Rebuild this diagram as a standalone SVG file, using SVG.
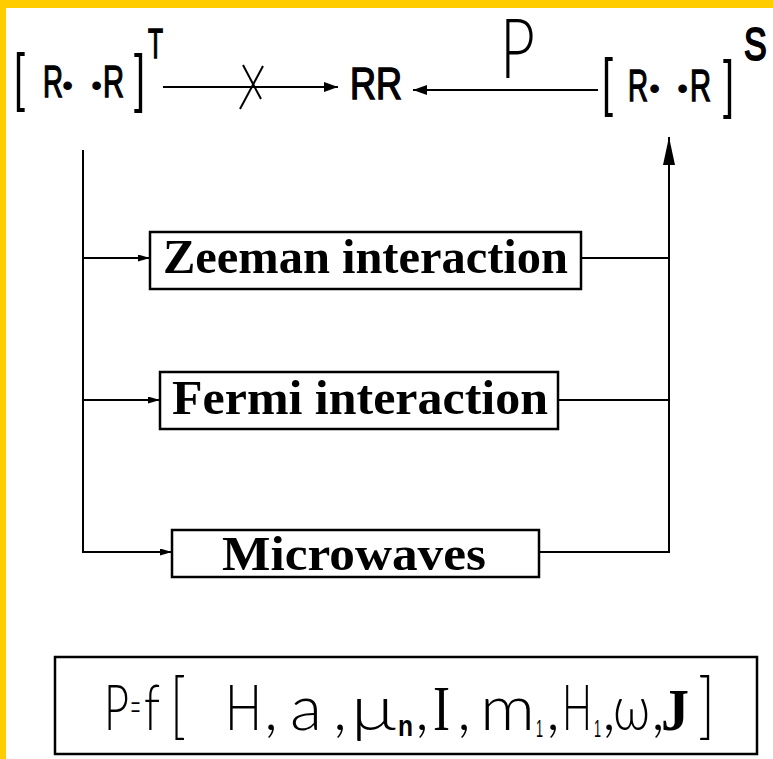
<svg xmlns="http://www.w3.org/2000/svg" width="773" height="759" viewBox="0 0 773 759">
<style>
.ln{stroke:#000;stroke-width:2;fill:none}
.bx{stroke:#000;stroke-width:2.5;fill:#fff}
.sans{font-family:"Liberation Sans",Arial,sans-serif;font-weight:normal;fill:#000;stroke:#000;stroke-width:1.5}
.brk{font-family:"Liberation Sans",Arial,sans-serif;font-weight:normal;fill:#000}
.thin{font-family:Lato,"DejaVu Sans",sans-serif;font-weight:300;fill:#000}
.sub{font-family:"Liberation Sans",Arial,sans-serif;fill:#000}
.serifT{font-family:"Liberation Serif","Times New Roman",serif;fill:#000}
.lbl{font-family:"Liberation Serif","Times New Roman",serif;font-weight:bold;font-size:48px;fill:#000}
</style>
<defs>
<marker id="big" markerUnits="userSpaceOnUse" viewBox="0 0 14 10" markerWidth="14" markerHeight="10" refX="14" refY="5" orient="auto"><path d="M0,0 L14,5 L0,10 z" fill="#000"/></marker>
<marker id="small" markerUnits="userSpaceOnUse" viewBox="0 0 12 7" markerWidth="12" markerHeight="7" refX="12" refY="3.5" orient="auto"><path d="M0,0 L12,3.5 L0,7 z" fill="#000"/></marker>
<marker id="tall" markerUnits="userSpaceOnUse" viewBox="0 0 28 12" markerWidth="28" markerHeight="12" refX="28" refY="6" orient="auto"><path d="M0,0 L28,6 L0,12 z" fill="#000"/></marker>
</defs>
<rect x="0" y="0" width="773" height="759" fill="#fff"/>
<rect x="0" y="0" width="773" height="8" fill="#FFCC00"/>
<rect x="0" y="0" width="6" height="759" fill="#FFCC00"/>

<g id="connectors">
<line class="ln" x1="163" y1="87" x2="338" y2="87" marker-end="url(#big)"/>
<line class="ln" x1="243" y1="65" x2="261" y2="99"/>
<line class="ln" x1="263" y1="66" x2="240" y2="109"/>
<line class="ln" x1="598" y1="90" x2="413" y2="90" marker-end="url(#big)"/>
<polyline class="ln" points="83,150 83,552 172,552" marker-end="url(#small)"/>
<line class="ln" x1="83" y1="258" x2="150" y2="258" marker-end="url(#small)"/>
<line class="ln" x1="83" y1="400" x2="160" y2="400" marker-end="url(#small)"/>
<line class="ln" x1="581" y1="258" x2="669" y2="258"/>
<line class="ln" x1="558" y1="400" x2="669" y2="400"/>
<polyline class="ln" points="539,552 669,552 669,137" marker-end="url(#tall)"/>
</g>

<g id="triplet">
<text class="brk" x="14" y="99" font-size="64" textLength="11" lengthAdjust="spacingAndGlyphs">[</text>
<text class="sans" x="43" y="97" font-size="45" textLength="20" lengthAdjust="spacingAndGlyphs">R</text>
<text class="brk" x="62" y="96" font-size="32">•</text>
<text class="brk" x="91" y="96" font-size="32">•</text>
<text class="sans" x="103" y="97" font-size="45" textLength="21" lengthAdjust="spacingAndGlyphs">R</text>
<text class="brk" x="134" y="100" font-size="64" textLength="11" lengthAdjust="spacingAndGlyphs">]</text>
<text class="sans" x="148" y="58" font-size="42" textLength="15" lengthAdjust="spacingAndGlyphs" stroke-width="2">T</text>
</g>

<g id="product">
<text class="sans" x="350" y="99" font-size="44" textLength="52" lengthAdjust="spacingAndGlyphs">RR</text>
</g>

<g id="rateP">
<text class="thin" x="500" y="78" font-size="82" textLength="35" lengthAdjust="spacingAndGlyphs">P</text>
</g>

<g id="singlet">
<text class="brk" x="602" y="104" font-size="64" textLength="11" lengthAdjust="spacingAndGlyphs">[</text>
<text class="sans" x="628" y="101" font-size="45" textLength="20" lengthAdjust="spacingAndGlyphs">R</text>
<text class="brk" x="649" y="99" font-size="32">•</text>
<text class="brk" x="677" y="99" font-size="32">•</text>
<text class="sans" x="690" y="101" font-size="45" textLength="21" lengthAdjust="spacingAndGlyphs">R</text>
<text class="brk" x="723" y="106" font-size="64" textLength="11" lengthAdjust="spacingAndGlyphs">]</text>
<text class="sans" transform="translate(744,60) scale(1,1.35)" x="0" y="0" font-size="34" stroke-width="1.2">S</text>
</g>

<g id="zeeman">
<rect class="bx" x="150" y="232" width="431" height="57"/>
<text class="lbl" x="163" y="273" textLength="405" lengthAdjust="spacingAndGlyphs">Zeeman interaction</text>
</g>

<g id="fermi">
<rect class="bx" x="160" y="372" width="398" height="57"/>
<text class="lbl" x="172" y="414" textLength="376" lengthAdjust="spacingAndGlyphs">Fermi interaction</text>
</g>

<g id="microwaves">
<rect class="bx" x="172" y="530" width="367" height="47"/>
<text class="lbl" x="222" y="570" textLength="264" lengthAdjust="spacingAndGlyphs">Microwaves</text>
</g>

<g id="formula">
<rect class="bx" x="55" y="657" width="702" height="97"/>
<text class="thin" x="104" y="730" font-size="64" textLength="25" lengthAdjust="spacingAndGlyphs">P</text>
<text class="thin" x="130" y="724" font-size="50" textLength="11" lengthAdjust="spacingAndGlyphs">=</text>
<text class="thin" x="144" y="730" font-size="64" textLength="16" lengthAdjust="spacingAndGlyphs">f</text>
<text class="thin" x="170" y="730" font-size="72" textLength="16" lengthAdjust="spacingAndGlyphs">[</text>
<text class="thin" x="225" y="730" font-size="64" textLength="37" lengthAdjust="spacingAndGlyphs">H</text>
<text class="thin" x="264" y="730" font-size="64">,</text>
<text class="thin" x="290" y="730" font-size="64" textLength="32" lengthAdjust="spacingAndGlyphs">a</text>
<text class="thin" x="333" y="730" font-size="64">,</text>
<text class="thin" x="351" y="730" font-size="64" textLength="45" lengthAdjust="spacingAndGlyphs">μ</text>
<text class="sub" x="398" y="736" font-size="30" font-weight="bold" textLength="15" lengthAdjust="spacingAndGlyphs">n</text>
<text class="thin" x="415" y="730" font-size="64">,</text>
<text class="serifT" x="433" y="730" font-size="64" textLength="17" lengthAdjust="spacingAndGlyphs">I</text>
<text class="thin" x="457" y="730" font-size="64">,</text>
<text class="thin" x="480" y="730" font-size="64" textLength="55" lengthAdjust="spacingAndGlyphs">m</text>
<text class="sub" x="536" y="737" font-size="24" textLength="7" lengthAdjust="spacingAndGlyphs">1</text>
<text class="thin" x="546" y="730" font-size="64">,</text>
<text class="thin" x="562" y="730" font-size="64" textLength="30" lengthAdjust="spacingAndGlyphs">H</text>
<text class="sub" x="594" y="737" font-size="24" textLength="7" lengthAdjust="spacingAndGlyphs">1</text>
<text class="thin" x="602" y="730" font-size="64">,</text>
<text class="thin" x="613" y="730" font-size="64" textLength="37" lengthAdjust="spacingAndGlyphs">ω</text>
<text class="thin" x="651" y="730" font-size="64">,</text>
<text class="serifT" x="661" y="730" font-size="60" font-weight="bold" textLength="28" lengthAdjust="spacingAndGlyphs">J</text>
<text class="thin" x="698" y="730" font-size="72" textLength="17" lengthAdjust="spacingAndGlyphs">]</text>
</g>
</svg>
